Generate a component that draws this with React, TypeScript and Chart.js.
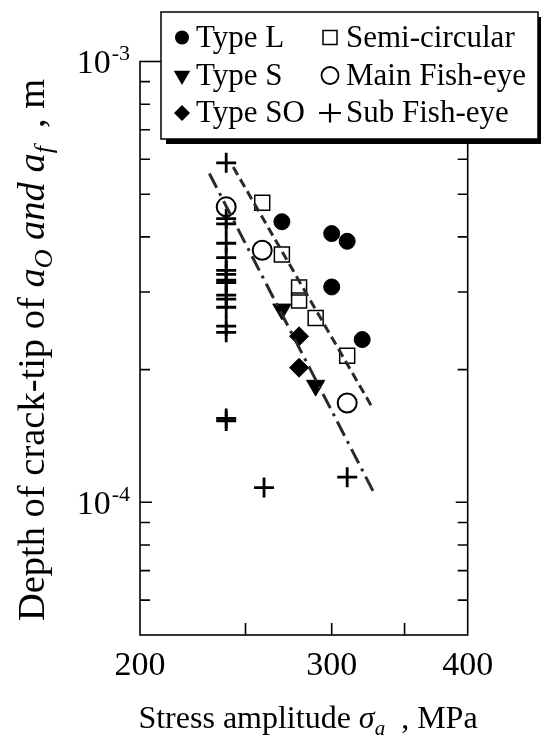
import React, { useEffect, useRef } from 'react';
import { Chart, registerables } from 'chart.js';

Chart.register(...registerables);

const FONT = '"Liberation Serif", "Times New Roman", Times, serif';

// Axis ranges and ticks
const X_RANGE = [200, 400];
const Y_RANGE = [5e-5, 1e-3];
const xLabelTicks = [200, 300, 400];
const xTickMarks = [250, 300, 350];
const yLabelTicks = [1e-3, 1e-4];
const yTickMarks = [9e-4, 8e-4, 7e-4, 6e-4, 5e-4, 4e-4, 3e-4, 2e-4, 1e-4, 9e-5, 8e-5, 7e-5, 6e-5];

// Series (stress amplitude MPa, depth m)
const typeLX = [270, 300, 310, 300, 320];
const typeLY = [4.33e-4, 4.07e-4, 3.91e-4, 3.08e-4, 2.34e-4];
const typeSX = [270, 290];
const typeSY = [2.74e-4, 1.84e-4];
const typeSOX = [280, 280];
const typeSOY = [2.38e-4, 2.02e-4];
const semiX = [259, 270, 280, 280, 290, 310];
const semiY = [4.78e-4, 3.65e-4, 3.07e-4, 2.87e-4, 2.62e-4, 2.15e-4];
const mainFishX = [240, 259, 310];
const mainFishY = [4.68e-4, 3.73e-4, 1.68e-4];
const subFishX = [240, 240, 240, 240, 240, 240, 240, 240, 240, 240, 240, 240, 240, 240, 240, 240, 260, 310];
const subFishY = [5.89e-4, 4.4e-4, 4.28e-4, 3.87e-4, 3.59e-4, 3.36e-4, 3.29e-4, 3.19e-4, 3.15e-4, 2.95e-4, 2.89e-4, 2.77e-4, 2.51e-4, 2.43e-4, 1.53e-4, 1.55e-4, 1.08e-4, 1.14e-4];
// Fitted trend lines
const fitSemiX = [243.6, 326.5];
const fitSemiY = [5.76e-4, 1.65e-4];
const fitFishX = [231.6, 329.1];
const fitFishY = [5.57e-4, 1.035e-4];

const legendCol1 = ['Type L', 'Type S', 'Type SO'];
const legendCol2 = ['Semi-circular', 'Main Fish-eye', 'Sub Fish-eye'];

const pts = (xs: number[], ys: number[]) => xs.map((x, i) => ({ x, y: ys[i] }));

type Run = { t: string; size: number; italic?: boolean; dy?: number; pre?: number };

function setFont(ctx: CanvasRenderingContext2D, r: Run) {
  ctx.font = `${r.italic ? 'italic ' : ''}${r.size}px ${FONT}`;
}
function runsWidth(ctx: CanvasRenderingContext2D, runs: Run[]) {
  let w = 0;
  for (const r of runs) {
    setFont(ctx, r);
    w += (r.pre || 0) + ctx.measureText(r.t).width;
  }
  return w;
}
function drawRuns(ctx: CanvasRenderingContext2D, runs: Run[], x: number, y: number) {
  let cx = x;
  ctx.textAlign = 'left';
  ctx.textBaseline = 'alphabetic';
  for (const r of runs) {
    setFont(ctx, r);
    cx += r.pre || 0;
    ctx.fillText(r.t, cx, y + (r.dy || 0));
    cx += ctx.measureText(r.t).width;
  }
}

function legendMarker(ctx: CanvasRenderingContext2D, kind: string, x: number, y: number) {
  ctx.save();
  ctx.fillStyle = '#000';
  ctx.strokeStyle = '#000';
  ctx.beginPath();
  if (kind === 'dot') {
    ctx.arc(x, y, 7, 0, Math.PI * 2);
    ctx.fill();
  } else if (kind === 'tri') {
    const r = 9.5;
    ctx.moveTo(x, y + r);
    ctx.lineTo(x - r * 0.866, y - r / 2);
    ctx.lineTo(x + r * 0.866, y - r / 2);
    ctx.closePath();
    ctx.fill();
  } else if (kind === 'dia') {
    const r = 8;
    ctx.moveTo(x, y - r);
    ctx.lineTo(x + r, y);
    ctx.lineTo(x, y + r);
    ctx.lineTo(x - r, y);
    ctx.closePath();
    ctx.fill();
  } else if (kind === 'sq') {
    ctx.lineWidth = 1.5;
    ctx.rect(x - 7, y - 7, 14, 14);
    ctx.stroke();
  } else if (kind === 'circ') {
    ctx.lineWidth = 1.8;
    ctx.arc(x, y, 8.5, 0, Math.PI * 2);
    ctx.stroke();
  } else if (kind === 'cross') {
    ctx.lineWidth = 2.2;
    ctx.moveTo(x - 11, y);
    ctx.lineTo(x + 11, y);
    ctx.moveTo(x, y - 9.5);
    ctx.lineTo(x, y + 9.5);
    ctx.stroke();
  }
  ctx.restore();
}

const framePlugin = {
  id: 'frameAndText',
  afterDraw(chart: any) {
    const ctx: CanvasRenderingContext2D = chart.ctx;
    const ca = chart.chartArea;
    const xs = chart.scales.x;
    const ys = chart.scales.y;
    ctx.save();
    ctx.strokeStyle = '#000';
    ctx.fillStyle = '#000';
    ctx.lineWidth = 1.6;
    ctx.strokeRect(ca.left, ca.top, ca.right - ca.left, ca.bottom - ca.top);

    // tick marks (inward)
    ctx.beginPath();
    for (const v of yTickMarks) {
      const py = ys.getPixelForValue(v);
      const len = v === 1e-4 ? 12 : 10;
      ctx.moveTo(ca.left, py);
      ctx.lineTo(ca.left + len, py);
      ctx.moveTo(ca.right, py);
      ctx.lineTo(ca.right - len, py);
    }
    for (const v of xTickMarks) {
      const px = xs.getPixelForValue(v);
      ctx.moveTo(px, ca.bottom);
      ctx.lineTo(px, ca.bottom - 12);
      ctx.moveTo(px, ca.top);
      ctx.lineTo(px, ca.top + 12);
    }
    ctx.stroke();

    // x tick labels
    ctx.font = `34px ${FONT}`;
    ctx.textAlign = 'center';
    ctx.textBaseline = 'alphabetic';
    for (const v of xLabelTicks) {
      ctx.fillText(String(v), xs.getPixelForValue(v), ca.bottom + 40);
    }

    // y tick labels 10^n
    for (const v of yLabelTicks) {
      const py = ys.getPixelForValue(v);
      const exp = String(Math.round(Math.log10(v)));
      ctx.font = `34px ${FONT}`;
      const w1 = ctx.measureText('10').width;
      ctx.font = `22px ${FONT}`;
      const w2 = ctx.measureText(exp).width;
      const x0 = ca.left - 11 - w1 - w2;
      ctx.textAlign = 'left';
      ctx.font = `34px ${FONT}`;
      ctx.fillText('10', x0, py + 11.5);
      ctx.font = `22px ${FONT}`;
      ctx.fillText(exp, x0 + w1 + 1, py - 1.5);
    }

    // x axis title
    const xRuns: Run[] = [
      { t: 'Stress amplitude ', size: 32 },
      { t: 'σ', size: 32, italic: true },
      { t: 'a', size: 21, italic: true, dy: 7 },
      { t: ', MPa', size: 32, pre: 16 },
    ];
    const xw = runsWidth(ctx, xRuns);
    drawRuns(ctx, xRuns, 308 - xw / 2, 728);

    // y axis title (rotated)
    const yRuns: Run[] = [
      { t: 'Depth of crack-tip of ', size: 38.5 },
      { t: 'a', size: 38.5, italic: true },
      { t: 'O', size: 26, italic: true, dy: 8 },
      { t: ' and ', size: 38.5, italic: true },
      { t: 'a', size: 38.5, italic: true },
      { t: 'f', size: 26, italic: true, dy: 8 },
      { t: ', m', size: 38.5, pre: 18 },
    ];
    const yw = runsWidth(ctx, yRuns);
    ctx.save();
    ctx.translate(44, 350);
    ctx.rotate(-Math.PI / 2);
    drawRuns(ctx, yRuns, -yw / 2, 0);
    ctx.restore();

    // legend box with shadow
    const bx = 161, by = 12, bw = 377, bh = 127;
    ctx.fillStyle = '#000';
    ctx.fillRect(bx + 5, by + 5, bw, bh);
    ctx.fillStyle = '#fff';
    ctx.fillRect(bx, by, bw, bh);
    ctx.lineWidth = 1.5;
    ctx.strokeStyle = '#000';
    ctx.strokeRect(bx, by, bw, bh);
    ctx.fillStyle = '#000';
    ctx.textAlign = 'left';
    ctx.textBaseline = 'alphabetic';
    const baselines = [46.5, 84.5, 122];
    const kinds1 = ['dot', 'tri', 'dia'];
    const kinds2 = ['sq', 'circ', 'cross'];
    for (let i = 0; i < 3; i++) {
      const bl = baselines[i];
      legendMarker(ctx, kinds1[i], 182, bl - 9);
      legendMarker(ctx, kinds2[i], 330, bl - 9);
      ctx.font = `31px ${FONT}`;
      ctx.fillStyle = '#000';
      ctx.fillText(legendCol1[i], 196, bl);
      ctx.fillText(legendCol2[i], 346, bl);
    }
    ctx.restore();
  },
};

export default function App() {
  const ref = useRef<HTMLCanvasElement>(null);
  useEffect(() => {
    document.body.style.margin = '0';
    const canvas = ref.current;
    if (!canvas) return;
    const black = '#000';
    const clear = 'rgba(0,0,0,0)';
    const chart = new Chart(canvas, {
      type: 'scatter',
      data: {
        datasets: [
          {
            label: 'Semi-circular fit',
            data: pts(fitSemiX, fitSemiY),
            showLine: true,
            borderColor: '#2a2a2a',
            borderWidth: 3,
            borderDash: [9, 5],
            pointRadius: 0,
          },
          {
            label: 'Fish-eye fit',
            data: pts(fitFishX, fitFishY),
            showLine: true,
            borderColor: '#2a2a2a',
            borderWidth: 3,
            borderDash: [16, 6, 3, 6],
            pointRadius: 0,
          },
          {
            label: legendCol1[0],
            data: pts(typeLX, typeLY),
            pointStyle: 'circle',
            pointRadius: 8,
            backgroundColor: black,
            borderColor: black,
          },
          {
            label: legendCol1[1],
            data: pts(typeSX, typeSY),
            pointStyle: 'triangle',
            pointRotation: 180,
            pointRadius: 10.5,
            backgroundColor: black,
            borderColor: black,
          },
          {
            label: legendCol1[2],
            data: pts(typeSOX, typeSOY),
            pointStyle: 'rectRot',
            pointRadius: 9.5,
            backgroundColor: black,
            borderColor: black,
          },
          {
            label: legendCol2[0],
            data: pts(semiX, semiY),
            pointStyle: 'rect',
            pointRadius: 10.6,
            backgroundColor: clear,
            borderColor: black,
            borderWidth: 1.5,
          },
          {
            label: legendCol2[1],
            data: pts(mainFishX, mainFishY),
            pointStyle: 'circle',
            pointRadius: 9.5,
            backgroundColor: clear,
            borderColor: black,
            borderWidth: 2,
          },
          {
            label: legendCol2[2],
            data: pts(subFishX, subFishY),
            pointStyle: 'cross',
            pointRadius: 10,
            backgroundColor: black,
            borderColor: black,
            borderWidth: 2.8,
          },
        ] as any,
      },
      options: {
        animation: false,
        responsive: false,
        devicePixelRatio: 1,
        events: [],
        layout: { padding: { left: 140, right: 73.3, top: 61.5, bottom: 101 } },
        scales: {
          x: { type: 'logarithmic', min: X_RANGE[0], max: X_RANGE[1], display: false },
          y: { type: 'logarithmic', min: Y_RANGE[0], max: Y_RANGE[1], display: false },
        },
        plugins: {
          legend: { display: false },
          tooltip: { enabled: false },
          title: { display: false },
        },
      } as any,
      plugins: [framePlugin],
    });
    return () => chart.destroy();
  }, []);
  return (
    <div style={{ width: 541, height: 736, background: '#fff' }}>
      <canvas ref={ref} width={541} height={736} style={{ display: 'block' }} />
    </div>
  );
}
